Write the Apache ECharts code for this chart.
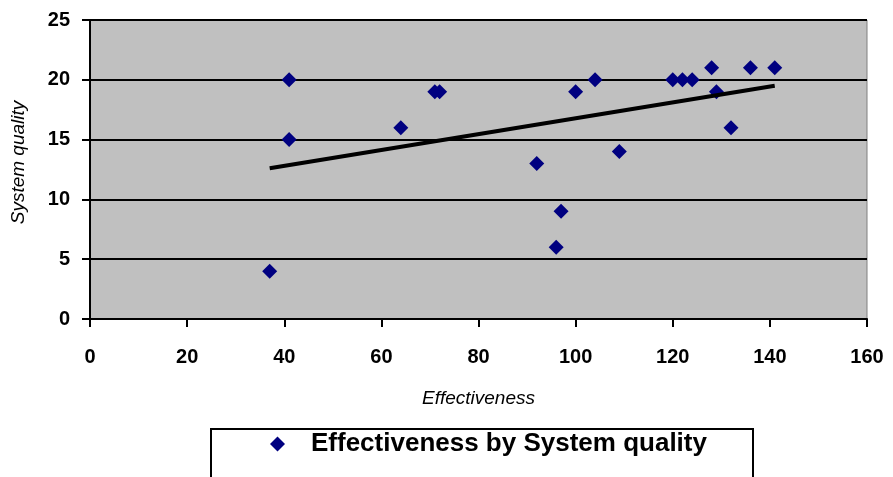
<!DOCTYPE html>
<html>
<head>
<meta charset="utf-8">
<script src="https://cdn.jsdelivr.net/npm/echarts@6/dist/echarts.min.js"></script>
<style>
html,body{margin:0;padding:0;background:#fff;}
#chart{width:893px;height:477px;}
</style>
</head>
<body>
<div id="chart"></div>
<script>
var effectiveness = [37, 41, 41, 64, 71, 72, 92, 96, 97, 100, 104, 109, 120, 122, 124, 128, 129, 132, 136, 141];
var systemQuality = [4, 20, 15, 16, 19, 19, 13, 6, 9, 19, 20, 14, 20, 20, 20, 21, 19, 16, 21, 21];
var trendX = [37, 141];
var trendY = [12.6, 19.5];
var xTicks = [0, 20, 40, 60, 80, 100, 120, 140, 160];
var yTicks = [0, 5, 10, 15, 20, 25];

var points = effectiveness.map(function (x, i) { return [x, systemQuality[i]]; });
var trend = trendX.map(function (x, i) { return [x, trendY[i]]; });

var FONT = 'Liberation Sans, Arial, sans-serif';
var chart = echarts.init(document.getElementById('chart'));
chart.setOption({
  animation: false,
  backgroundColor: '#ffffff',
  grid: {
    left: 90, top: 20, right: 26, bottom: 158,
    containLabel: false, outerBoundsMode: 'none',
    show: true, backgroundColor: '#C0C0C0', borderColor: '#808080', borderWidth: 1
  },
  xAxis: {
    type: 'value', min: 0, max: 160, interval: 20,
    name: 'Effectiveness', nameLocation: 'middle', nameGap: 70,
    nameTextStyle: { fontFamily: FONT, fontStyle: 'italic', fontSize: 19, color: '#000' },
    axisLine: { show: true, lineStyle: { color: '#000', width: 2 } },
    axisTick: { show: true, length: 8, lineStyle: { color: '#000', width: 2 } },
    axisLabel: { margin: 28, fontFamily: FONT, fontWeight: 'bold', fontSize: 20, color: '#000',
      formatter: function (v) { return xTicks.indexOf(v) >= 0 ? String(v) : ''; } },
    splitLine: { show: false }
  },
  yAxis: {
    type: 'value', min: 0, max: 25, interval: 5,
    name: 'System quality', nameLocation: 'middle', nameGap: 62,
    nameTextStyle: { fontFamily: FONT, fontStyle: 'italic', fontSize: 19, color: '#000', padding: [0, 0, 0, 14] },
    axisLine: { show: true, lineStyle: { color: '#000', width: 2 } },
    axisTick: { show: true, length: 8, lineStyle: { color: '#000', width: 2 } },
    axisLabel: { margin: 20, fontFamily: FONT, fontWeight: 'bold', fontSize: 20, color: '#000',
      formatter: function (v) { return yTicks.indexOf(v) >= 0 ? String(v) : ''; } },
    splitLine: { show: true, lineStyle: { color: '#000', width: 2 } }
  },
  graphic: [{
    type: 'rect', left: 210, top: 428, z: 0,
    shape: { width: 542, height: 70 },
    style: { fill: '#ffffff', stroke: '#000', lineWidth: 2 }
  }],
  legend: {
    data: [{ name: 'Effectiveness by System quality', icon: 'diamond',
      itemStyle: { color: '#000080', opacity: 1 } }],
    left: 265, top: 426, z: 10,
    itemWidth: 15, itemHeight: 15,
    textStyle: { fontFamily: FONT, fontWeight: 'bold', fontSize: 26, color: '#000', padding: [0, 0, 0, 21] }
  },
  series: [{
    name: 'Effectiveness by System quality',
    type: 'scatter', symbol: 'diamond', symbolSize: 15,
    itemStyle: { color: '#000080', opacity: 1 },
    data: points, z: 3
  }, {
    name: 'trend', type: 'line', data: trend, symbol: 'none',
    lineStyle: { color: '#000', width: 4 }, z: 4, silent: true
  }]
});
</script>
</body>
</html>
